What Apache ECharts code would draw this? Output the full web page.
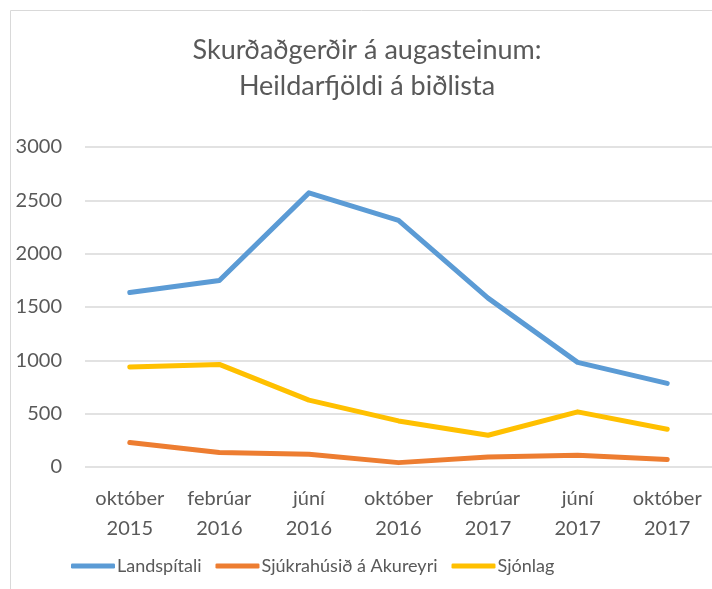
<!DOCTYPE html>
<html>
<head>
<meta charset="utf-8">
<script src="https://cdn.jsdelivr.net/npm/echarts@6/dist/echarts.min.js"></script>
<style>
  html, body { margin: 0; padding: 0; background: #fff; }
  #chart { width: 712px; height: 589px; }
</style>
</head>
<body>
<div id="chart"></div>
<script>
var categories = ['október\n2015', 'febrúar\n2016', 'júní\n2016', 'október\n2016', 'febrúar\n2017', 'júní\n2017', 'október\n2017'];
var landspitali = [1635, 1748, 2570, 2312, 1583, 981, 784];
var akureyri = [229, 135, 119, 41, 94, 110, 70];
var sjonlag = [937, 962, 627, 432, 298, 517, 354];

var font = 'Lato, "Open Sans", sans-serif';
var chart = echarts.init(document.getElementById('chart'));

function line(name, data, color) {
    return {
        name: name,
        type: 'line',
        data: data,
        symbol: 'none',
        lineStyle: { color: color, width: 5, cap: 'round', join: 'round' },
        itemStyle: { color: color }
    };
}

chart.setOption({
    animation: false,
    textStyle: { fontFamily: font },
    graphic: [{
        type: 'rect',
        shape: { x: 10.5, y: 10.5, width: 800, height: 700 },
        style: { fill: 'none', stroke: '#d9d9d9', lineWidth: 1 }
    }],
    title: {
        text: 'Skurðaðgerðir á augasteinum:\nHeildarfjöldi á biðlista',
        left: 362,
        textAlign: 'center',
        top: 27,
        textStyle: { fontFamily: font, fontSize: 27, fontWeight: 'normal', color: '#595959', lineHeight: 36 }
    },
    legend: {
        bottom: 9,
        left: 66,
        icon: 'roundRect',
        itemWidth: 44,
        itemHeight: 5,
        itemGap: 14,
        textStyle: { fontFamily: font, fontSize: 18, color: '#595959', padding: [0, 0, 0, -3] },
        data: ['Landspítali', 'Sjúkrahúsið á Akureyri', 'Sjónlag']
    },
    grid: { left: 85, right: 0, top: 147, bottom: 122 },
    xAxis: {
        type: 'category',
        data: categories,
        boundaryGap: true,
        axisLine: { show: false },
        axisTick: { show: false },
        axisLabel: { fontFamily: font, fontSize: 20, color: '#595959', lineHeight: 30, margin: 17, interval: 0 }
    },
    yAxis: {
        type: 'value',
        min: 0,
        max: 3000,
        interval: 500,
        axisLine: { show: false },
        axisTick: { show: false },
        axisLabel: { fontFamily: font, fontSize: 20, color: '#595959', margin: 23, formatter: function (v) { return String(v); } },
        splitLine: { lineStyle: { color: '#d9d9d9', width: 1.5 } }
    },
    series: [
        line('Landspítali', landspitali, '#5b9bd5'),
        line('Sjúkrahúsið á Akureyri', akureyri, '#ed7d31'),
        line('Sjónlag', sjonlag, '#ffc000')
    ]
});
</script>
</body>
</html>
